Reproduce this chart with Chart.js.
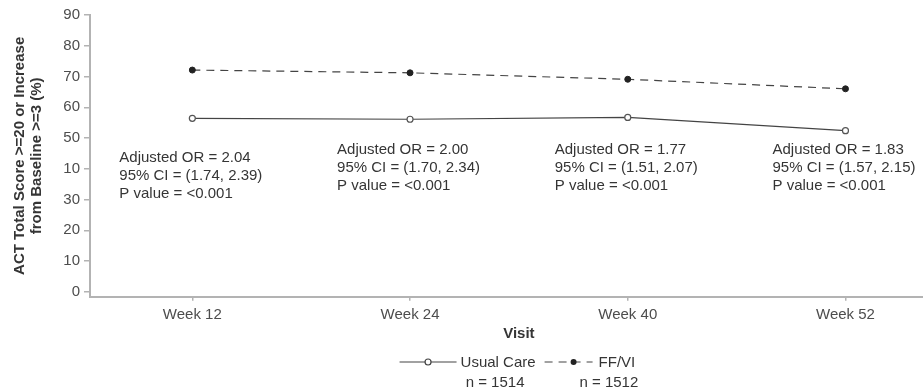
<!DOCTYPE html>
<html>
<head>
<meta charset="utf-8">
<script src="https://cdn.jsdelivr.net/npm/chart.js@4/dist/chart.umd.min.js"></script>
<style>
  html, body { margin: 0; padding: 0; background: #fff; overflow: hidden; width: 923px; height: 392px; }
  #wrap { width: 953px; height: 392px; position: relative; }
</style>
</head>
<body>
<div id="wrap"><canvas id="c" width="953" height="392"></canvas></div>
<script>
// Proportion of patients reaching ACT >= 20 or improving by >= 3, by visit
const visits = ['Week 12', 'Week 24', 'Week 40', 'Week 52'];
const usualCare = [56.4, 56.1, 56.7, 52.4];
const ffvi = [72.1, 71.2, 69.1, 66.0];

const yTickValues = [0, 10, 20, 30, 40, 50, 60, 70, 80, 90];
const yTickLabels = ['0', '10', '20', '30', '10', '50', '60', '70', '80', '90'];

// Treatment comparison at each visit
const adjustedOR = ['2.04', '2.00', '1.77', '1.83'];
const ciLower = ['1.74', '1.70', '1.51', '1.57'];
const ciUpper = ['2.39', '2.34', '2.07', '2.15'];
const pValues = ['<0.001', '<0.001', '<0.001', '<0.001'];

const seriesNames = ['Usual Care', 'FF/VI'];
const sampleSizes = ['1514', '1512'];

const FONT = '"Liberation Sans", Arial, Helvetica, sans-serif';
const TEXT = '#353535';
const TICK = '#4d4d4d';
const AXIS = '#b3b3b3';
const LINE = '#444';

const toPoints = arr => arr.map((v, i) => ({ x: i, y: v }));

// Odds-ratio text blocks under each visit
const statsPlugin = {
  id: 'stats',
  afterDatasetsDraw(chart) {
    const { ctx, scales: { x, y } } = chart;
    ctx.save();
    ctx.font = '15px ' + FONT;
    ctx.fillStyle = TEXT;
    ctx.textAlign = 'left';
    ctx.textBaseline = 'middle';
    visits.forEach((_, i) => {
      const left = x.getPixelForValue(i) - 73;
      const top = y.getPixelForValue(i === 0 ? 43.5 : 46.1);
      const lines = [
        'Adjusted OR = ' + adjustedOR[i],
        '95% CI = (' + ciLower[i] + ', ' + ciUpper[i] + ')',
        'P value = ' + pValues[i]
      ];
      lines.forEach((t, k) => ctx.fillText(t, left, top + k * 18));
    });
    ctx.restore();
  }
};

// Legend row with group sizes underneath
const legendPlugin = {
  id: 'groupLegend',
  afterDraw(chart) {
    const { ctx, chartArea } = chart;
    ctx.save();
    ctx.font = '15px ' + FONT;
    ctx.textBaseline = 'middle';
    const sampleW = [57, 48];
    const w1 = ctx.measureText(seriesNames[0]).width;
    const w2 = ctx.measureText(seriesNames[1]).width;
    const total = sampleW[0] + 4 + w1 + 9 + sampleW[1] + 5 + w2;
    let xPos = (chartArea.left + chartArea.right) / 2 - total / 2 - 2;
    const yRow = 362, yN = 382;

    // Usual Care sample
    ctx.strokeStyle = LINE;
    ctx.lineWidth = 1.2;
    ctx.setLineDash([]);
    ctx.beginPath();
    ctx.moveTo(xPos, yRow); ctx.lineTo(xPos + sampleW[0], yRow);
    ctx.stroke();
    ctx.beginPath();
    ctx.arc(xPos + sampleW[0] / 2, yRow, 3, 0, Math.PI * 2);
    ctx.fillStyle = '#fff'; ctx.fill(); ctx.stroke();
    xPos += sampleW[0] + 4;
    ctx.fillStyle = TEXT;
    ctx.textAlign = 'left';
    ctx.fillText(seriesNames[0], xPos, yRow + 1);
    ctx.textAlign = 'center';
    ctx.fillText('n = ' + sampleSizes[0], xPos + w1 / 2 - 3, yN + 1);
    xPos += w1 + 9;

    // FF/VI sample
    ctx.setLineDash([8, 6]);
    ctx.beginPath();
    ctx.moveTo(xPos, yRow); ctx.lineTo(xPos + sampleW[1], yRow);
    ctx.stroke();
    ctx.setLineDash([]);
    ctx.beginPath();
    ctx.arc(xPos + sampleW[1] / 2 + 5, yRow, 3, 0, Math.PI * 2);
    ctx.fillStyle = '#222'; ctx.fill();
    xPos += sampleW[1] + 6;
    ctx.fillStyle = TEXT;
    ctx.textAlign = 'left';
    ctx.fillText(seriesNames[1], xPos, yRow + 1);
    ctx.textAlign = 'right';
    ctx.fillText('n = ' + sampleSizes[1], xPos + w2 + 3, yN + 1);
    ctx.restore();
  }
};

new Chart(document.getElementById('c'), {
  type: 'line',
  data: {
    datasets: [
      {
        label: seriesNames[0],
        data: toPoints(usualCare),
        borderColor: LINE,
        borderWidth: 1.2,
        pointRadius: 3,
        pointBackgroundColor: '#fff',
        pointBorderColor: '#555',
        pointBorderWidth: 1.2,
        tension: 0
      },
      {
        label: seriesNames[1],
        data: toPoints(ffvi),
        borderColor: LINE,
        borderWidth: 1.2,
        borderDash: [8, 6],
        pointRadius: 3,
        pointBackgroundColor: '#222',
        pointBorderColor: '#222',
        pointBorderWidth: 1,
        tension: 0
      }
    ]
  },
  options: {
    responsive: false,
    animation: false,
    devicePixelRatio: 1,
    layout: { padding: { top: 15, right: 0, bottom: 50, left: 0 } },
    plugins: {
      legend: { display: false },
      tooltip: { enabled: false }
    },
    scales: {
      x: {
        type: 'linear',
        min: -0.47,
        max: 3.47,
        afterBuildTicks: s => { s.ticks = visits.map((_, i) => ({ value: i })); },
        afterFit: s => { s.height = 45.3; },
        ticks: {
          callback: (v, i) => visits[i],
          font: { family: FONT, size: 15 },
          color: TICK,
          padding: 5,
          maxRotation: 0,
          autoSkip: false
        },
        grid: { drawOnChartArea: false, drawTicks: true, tickLength: 4, color: AXIS, lineWidth: 1.5 },
        border: { display: true, color: AXIS, width: 2 },
        title: {
          display: true,
          text: 'Visit',
          font: { family: FONT, size: 15, weight: 'bold', lineHeight: 17 / 15 },
          color: TEXT,
          padding: { top: 0, bottom: 0 }
        }
      },
      y: {
        min: -1.6,
        max: 90,
        afterBuildTicks: s => { s.ticks = yTickValues.map(v => ({ value: v })); },
        afterFit: s => { s.width = 90; },
        ticks: {
          callback: (v, i) => yTickLabels[i],
          font: { family: FONT, size: 15 },
          color: TICK,
          padding: 4
        },
        grid: { drawOnChartArea: false, drawTicks: true, tickLength: 6, color: AXIS, lineWidth: 1.5 },
        border: { display: true, color: AXIS, width: 2 },
        title: {
          display: true,
          text: ['ACT Total Score >=20 or Increase', 'from Baseline >=3 (%)'],
          font: { family: FONT, size: 15, weight: 'bold', lineHeight: 17 / 15 },
          color: TEXT,
          padding: { top: 11.5, bottom: 0 }
        }
      }
    }
  },
  plugins: [statsPlugin, legendPlugin]
});
</script>
</body>
</html>
